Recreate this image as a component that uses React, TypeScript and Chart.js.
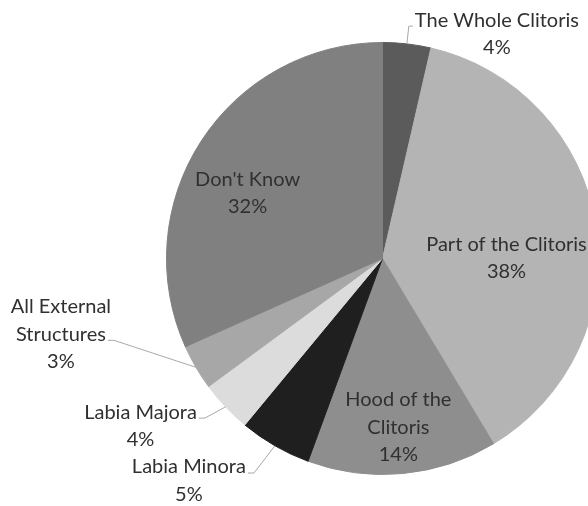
import React, { useEffect, useRef } from "react";
import { Chart, registerables } from "chart.js";

Chart.register(...registerables);

// ---- data ----
const categories = [
  "The Whole Clitoris",
  "Part of the Clitoris",
  "Hood of the Clitoris",
  "Labia Minora",
  "Labia Majora",
  "All External Structures",
  "Don't Know",
];
const values = [3.6, 37.8, 14.2, 5.4, 3.9, 3.4, 31.7];
const labelLines = [
  ["The Whole Clitoris"],
  ["Part of the Clitoris"],
  ["Hood of the", "Clitoris"],
  ["Labia Minora"],
  ["Labia Majora"],
  ["All External", "Structures"],
  ["Don't Know"],
];

// ---- styles ----
const colors = ["#5b5b5b", "#b4b4b4", "#8e8e8e", "#1f1f1f", "#dcdcdc", "#a7a7a7", "#808080"];

type LabelLayout = {
  inside: boolean;
  rFrac?: number;
  dx: number;
  dy: number;
  side?: "left" | "right";
  line?: number;
};
const labelLayout: LabelLayout[] = [
  { inside: false, dx: 90, dy: -10, side: "left", line: 0 },
  { inside: true, rFrac: 0.6, dx: -4, dy: 20 },
  { inside: true, rFrac: 0.78, dx: 0, dy: 1 },
  { inside: false, dx: -86, dy: 35, side: "right", line: 0 },
  { inside: false, dx: -85, dy: 19, side: "right", line: 0 },
  { inside: false, dx: -135, dy: -33, side: "right", line: 1 },
  { inside: true, rFrac: 0.7, dx: -8, dy: 17 },
];

const FONT = "20px Lato";
const LINE_H = 27.5;
const TEXT_COLOR = "#303030";
const LEADER_COLOR = "#a8a8a8";

const labelPlugin = {
  id: "pieLabels",
  afterDatasetsDraw(chart: any) {
    const ctx = chart.ctx;
    const meta = chart.getDatasetMeta(0);
    const total = values.reduce((a, b) => a + b, 0);
    ctx.save();
    ctx.font = FONT;
    ctx.fillStyle = TEXT_COLOR;
    ctx.textAlign = "center";
    ctx.textBaseline = "middle";
    meta.data.forEach((arc: any, i: number) => {
      const p = arc.getProps(["x", "y", "startAngle", "endAngle", "outerRadius"], true);
      const mid = (p.startAngle + p.endAngle) / 2;
      const lay = labelLayout[i];
      const lines = [...labelLines[i], Math.round((values[i] / total) * 100) + "%"];
      let cx: number, cy: number;
      const ex = p.x + Math.cos(mid) * p.outerRadius;
      const ey = p.y + Math.sin(mid) * p.outerRadius;
      if (lay.inside) {
        const r = p.outerRadius * (lay.rFrac || 0.6);
        cx = p.x + Math.cos(mid) * r + lay.dx;
        cy = p.y + Math.sin(mid) * r + lay.dy;
      } else {
        cx = ex + lay.dx;
        cy = ey + lay.dy;
      }
      const top = cy - ((lines.length - 1) * LINE_H) / 2;
      lines.forEach((t, k) => {
        ctx.fillText(t, cx, top + k * LINE_H);
      });
      if (!lay.inside) {
        const k = lay.line || 0;
        const w = ctx.measureText(lines[k]).width;
        const ly = top + k * LINE_H + 6;
        let ax: number, elx: number;
        if (lay.side === "left") {
          ax = cx - w / 2 - 2;
          elx = ax - 4;
        } else {
          ax = cx + w / 2 + 2;
          elx = ax + 6;
        }
        ctx.beginPath();
        ctx.strokeStyle = LEADER_COLOR;
        ctx.lineWidth = 1;
        ctx.moveTo(ex, ey);
        ctx.lineTo(elx, ly);
        ctx.lineTo(ax, ly);
        ctx.stroke();
      }
    });
    ctx.restore();
  },
};

export default function App() {
  const ref = useRef<HTMLCanvasElement>(null);
  useEffect(() => {
    if (!ref.current) return;
    const chart = new Chart(ref.current, {
      type: "pie",
      data: {
        labels: categories,
        datasets: [
          {
            data: values,
            backgroundColor: colors,
            borderColor: colors,
            borderWidth: 1,
            clip: false as any,
          },
        ],
      },
      options: {
        responsive: false,
        animation: false,
        layout: { padding: { left: 166, right: 1, top: 42, bottom: 31 } },
        plugins: {
          legend: { display: false },
          tooltip: { enabled: false },
          title: { display: false },
        },
      },
      plugins: [labelPlugin],
    });
    return () => chart.destroy();
  }, []);
  return (
    <div
      style={{
        position: "absolute",
        left: 0,
        top: 0,
        width: 588,
        height: 506,
        overflow: "hidden",
        background: "#ffffff",
      }}
    >
      <canvas ref={ref} width={600} height={506} style={{ width: 600, height: 506, display: "block" }} />
    </div>
  );
}
